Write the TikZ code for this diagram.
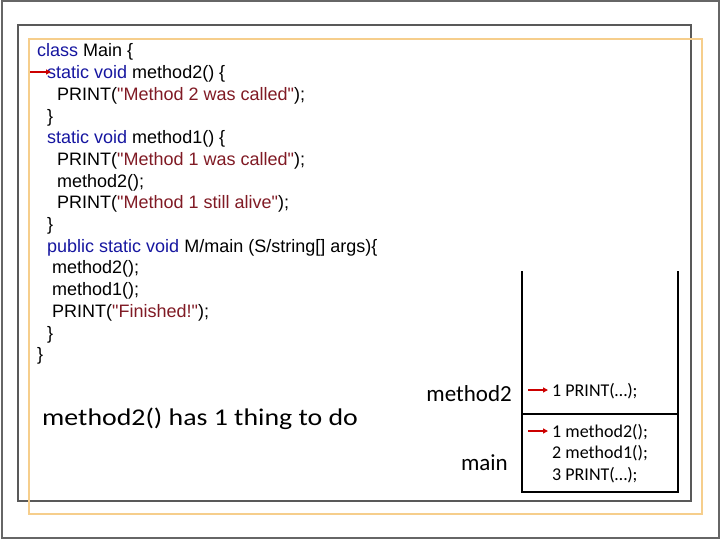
\documentclass[tikz,border=0pt]{standalone}
\usepackage{fontspec}
\setmainfont{Liberation Sans}
\newfontfamily\calfont{Carlito}
\usepackage{tikz}
\usetikzlibrary{arrows.meta}
\definecolor{kwblue}{RGB}{22,22,160}
\definecolor{strred}{RGB}{128,26,36}
\definecolor{frameyellow}{RGB}{246,206,140}
\newcommand{\kwd}[1]{\textcolor{kwblue}{#1}}
\newcommand{\strg}[1]{\textcolor{strred}{\textquotedbl#1\textquotedbl}}

\begin{document}
\begin{tikzpicture}[x=1bp,y=-1bp,
		codeline/.style={anchor=base west,inner sep=0pt,font=\fontsize{18bp}{21.7bp}\selectfont},
		biglabel/.style={inner sep=0pt,font=\calfont\fontsize{23bp}{27bp}\selectfont},
		stackitem/.style={anchor=base west,inner sep=0pt,font=\calfont\fontsize{18bp}{20bp}\selectfont},
		pointer/.style={red!80!black,line width=1.8bp,-{Triangle[length=5bp,width=5bp]}}]
			\useasboundingbox (0,0) rectangle (720,540);
			% frames
			\draw [gray!80!black,line width=1.2bp] (2,1) rectangle (719,538);
			\draw [gray!70!black,line width=1.2bp] (18,25) rectangle (691,501);
			\draw [frameyellow,line width=1.2bp] (29,39) rectangle (702,514);
			% code
			\node [codeline] (l1) at (37,57) {\kwd{class} Main \{};
			\node [codeline] (l2) at (47,78.7) {\kwd{static void} method2() \{};
			\node [codeline] (l3) at (57,100.4) {PRINT(\strg{Method 2 was called});};
			\node [codeline] (l4) at (47,122.1) {\}};
			\node [codeline] (l5) at (47,143.8) {\kwd{static void} method1() \{};
			\node [codeline] (l6) at (57,165.5) {PRINT(\strg{Method 1 was called});};
			\node [codeline] (l7) at (57,187.2) {method2();};
			\node [codeline] (l8) at (57,208.9) {PRINT(\strg{Method 1 still alive});};
			\node [codeline] (l9) at (47,230.6) {\}};
			\node [codeline] (l10) at (47,252.3) {\kwd{public static void} M/main (S/string[] args)\{};
			\node [codeline] (l11) at (52,274) {method2();};
			\node [codeline] (l12) at (52,295.7) {method1();};
			\node [codeline] (l13) at (52,317.4) {PRINT(\strg{Finished!});};
			\node [codeline] (l14) at (47,339.1) {\}};
			\node [codeline] (l15) at (37,360.8) {\}};
			\coordinate (codeptr) at (30,72);
			\draw [pointer] (codeptr) -- ([xshift=4bp]l2.west |- codeptr);
			% note
			\node [biglabel,anchor=base west,xscale=1.16,font=\calfont\fontsize{24bp}{28bp}\selectfont] (note) at (42,425) {method2() has 1 thing to do};
			% stack
			\coordinate (stl) at (522,271);
			\coordinate (str) at (678,271);
			\coordinate (sbl) at (522,492);
			\coordinate (sbr) at (678,492);
			\draw [line width=2.2bp] (stl) -- (sbl) -- (sbr) -- (str);
			\draw [line width=2.2bp] (522,414) -- (678,414);
			\node [biglabel,anchor=base east] (m2label) at (512,401) {method2};
			\node [biglabel,anchor=base east] (mainlabel) at (508,470) {main};
			\node [stackitem] (m2a) at (552,396) {1 PRINT(\dots);};
			\node [stackitem] (ma) at (552,437) {1 method2();};
			\node [stackitem] (mb) at (552,458.5) {2 method1();};
			\node [stackitem] (mc) at (552,480) {3 PRINT(\dots);};
			\coordinate (p1) at (528,390);
			\coordinate (p2) at (528,431);
			\draw [pointer] (p1) -- ([xshift=-4bp]m2a.west |- p1);
			\draw [pointer] (p2) -- ([xshift=-4bp]ma.west |- p2);
		\end{tikzpicture}
\end{document}
